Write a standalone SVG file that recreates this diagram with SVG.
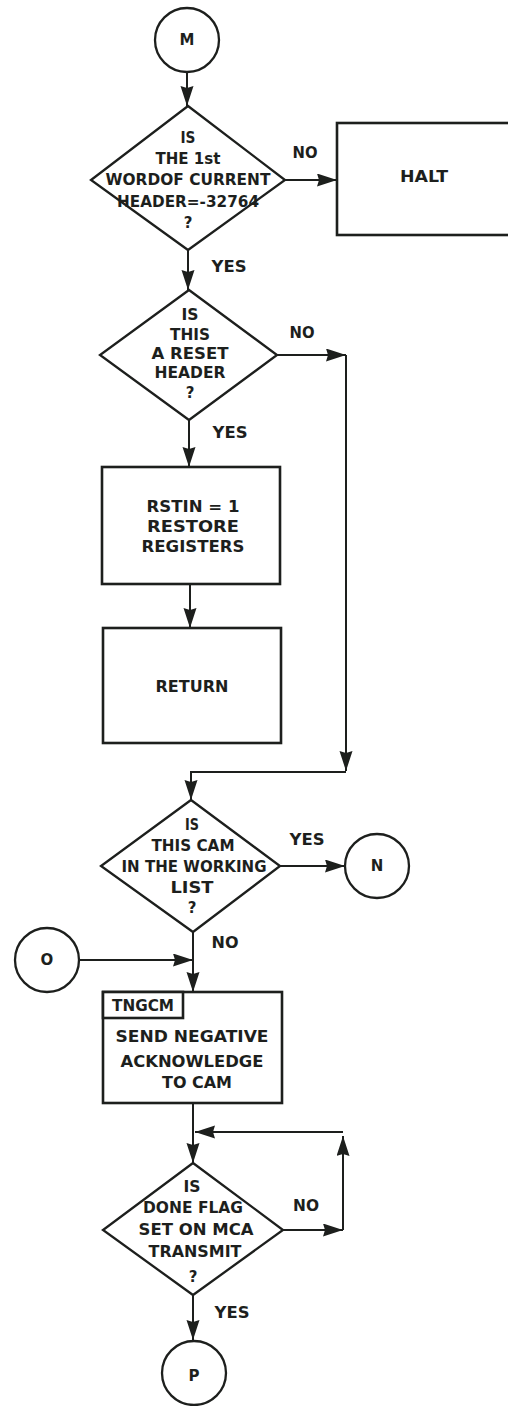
<svg xmlns="http://www.w3.org/2000/svg" width="508" height="1406" viewBox="0 0 508 1406">
<style>
.bg{fill:#ffffff}
.shape{fill:#ffffff;stroke:#1d1f1d;stroke-width:2.3}
.box{fill:#ffffff;stroke:#1d1f1d;stroke-width:2.6}
.conn{fill:none;stroke:#1d1f1d;stroke-width:2}
.t{font-family:"DejaVu Sans","Liberation Sans",Arial,sans-serif;font-weight:bold;font-size:15px;fill:#1d1f1d;text-anchor:middle}
</style>
<defs>
<marker id="arr" markerUnits="userSpaceOnUse" markerWidth="22" markerHeight="14" refX="20" refY="6.5" orient="auto">
<path d="M0,0 L20,6.5 L0,13 L2,6.5 z" fill="#1d1f1d"/>
</marker>
</defs>
<rect class="bg" x="0" y="0" width="508" height="1406"/>

<g id="connectors">
<path class="conn" d="M187,72 L187,106" marker-end="url(#arr)"/>
<path class="conn" d="M285,180 L337,180" marker-end="url(#arr)"/>
<path class="conn" d="M188,250 L188,290" marker-end="url(#arr)"/>
<path class="conn" d="M277,355 L346,355" marker-end="url(#arr)"/>
<path class="conn" d="M346,355 L346,771" marker-end="url(#arr)"/>
<path class="conn" d="M346,772 L191,772 L191,800" marker-end="url(#arr)"/>
<path class="conn" d="M189,420 L189,467" marker-end="url(#arr)"/>
<path class="conn" d="M190,584 L190,628" marker-end="url(#arr)"/>
<path class="conn" d="M280,866 L345,866" marker-end="url(#arr)"/>
<path class="conn" d="M80,960 L193,960" marker-end="url(#arr)"/>
<path class="conn" d="M193,932 L193,992" marker-end="url(#arr)"/>
<path class="conn" d="M193,1103 L193,1163" marker-end="url(#arr)"/>
<path class="conn" d="M283,1230 L343,1230" marker-end="url(#arr)"/>
<path class="conn" d="M343,1230 L343,1136" marker-end="url(#arr)"/>
<path class="conn" d="M343,1132 L195,1132" marker-end="url(#arr)"/>
<path class="conn" d="M193,1295 L193,1340" marker-end="url(#arr)"/>
<text class="t" x="305" y="158" textLength="25" lengthAdjust="spacingAndGlyphs">NO</text>
<text class="t" x="229" y="272" textLength="35" lengthAdjust="spacingAndGlyphs">YES</text>
<text class="t" x="302" y="338" textLength="25" lengthAdjust="spacingAndGlyphs">NO</text>
<text class="t" x="230" y="438" textLength="35" lengthAdjust="spacingAndGlyphs">YES</text>
<text class="t" x="307" y="845" textLength="35" lengthAdjust="spacingAndGlyphs">YES</text>
<text class="t" x="225" y="948" textLength="27" lengthAdjust="spacingAndGlyphs">NO</text>
<text class="t" x="306" y="1211" textLength="26" lengthAdjust="spacingAndGlyphs">NO</text>
<text class="t" x="232" y="1318" textLength="35" lengthAdjust="spacingAndGlyphs">YES</text>
</g>

<g id="node-M">
<circle class="shape" cx="187" cy="40" r="32"/>
<text class="t" x="187" y="45">M</text>
</g>

<g id="node-D1">
<polygon class="shape" points="188,106 285,180 188,250 91,180"/>
<text class="t" x="188" y="143" textLength="15" lengthAdjust="spacingAndGlyphs">IS</text>
<text class="t" x="188" y="164" textLength="65" lengthAdjust="spacingAndGlyphs">THE 1st</text>
<text class="t" x="188" y="185" textLength="165" lengthAdjust="spacingAndGlyphs">WORDOF CURRENT</text>
<text class="t" x="188" y="207" textLength="142" lengthAdjust="spacingAndGlyphs">HEADER=-32764</text>
<text class="t" x="188" y="228">?</text>
</g>

<g id="node-HALT">
<rect class="box" x="337" y="123" width="180" height="112"/>
<text class="t" x="424" y="182" textLength="48" lengthAdjust="spacingAndGlyphs">HALT</text>
</g>

<g id="node-D2">
<polygon class="shape" points="189,290 277,355 189,420 100,355"/>
<text class="t" x="190" y="320" textLength="17" lengthAdjust="spacingAndGlyphs">IS</text>
<text class="t" x="190" y="340" textLength="40" lengthAdjust="spacingAndGlyphs">THIS</text>
<text class="t" x="190" y="359" textLength="77" lengthAdjust="spacingAndGlyphs">A RESET</text>
<text class="t" x="190" y="378" textLength="71" lengthAdjust="spacingAndGlyphs">HEADER</text>
<text class="t" x="190" y="398">?</text>
</g>

<g id="node-RSTIN">
<rect class="box" x="102" y="467" width="178" height="117"/>
<text class="t" x="193" y="512" textLength="93" lengthAdjust="spacingAndGlyphs">RSTIN = 1</text>
<text class="t" x="193" y="532" textLength="92" lengthAdjust="spacingAndGlyphs">RESTORE</text>
<text class="t" x="193" y="552" textLength="103" lengthAdjust="spacingAndGlyphs">REGISTERS</text>
</g>

<g id="node-RETURN">
<rect class="box" x="103" y="628" width="178" height="115"/>
<text class="t" x="192" y="692" textLength="73" lengthAdjust="spacingAndGlyphs">RETURN</text>
</g>

<g id="node-D3">
<polygon class="shape" points="191,800 280,866 193,932 101,866"/>
<text class="t" x="192" y="830" textLength="14" lengthAdjust="spacingAndGlyphs">IS</text>
<text class="t" x="193" y="851" textLength="83" lengthAdjust="spacingAndGlyphs">THIS CAM</text>
<text class="t" x="194" y="872" textLength="145" lengthAdjust="spacingAndGlyphs">IN THE WORKING</text>
<text class="t" x="192" y="893" textLength="43" lengthAdjust="spacingAndGlyphs">LIST</text>
<text class="t" x="192" y="913">?</text>
</g>

<g id="node-N">
<circle class="shape" cx="377" cy="866" r="32"/>
<text class="t" x="377" y="871">N</text>
</g>

<g id="node-O">
<circle class="shape" cx="47" cy="960" r="32"/>
<text class="t" x="47" y="965">O</text>
</g>

<g id="node-TNGCM">
<rect class="box" x="103" y="992" width="179" height="111"/>
<rect class="box" x="103" y="992" width="80" height="26"/>
<text class="t" x="143" y="1011" textLength="62" lengthAdjust="spacingAndGlyphs">TNGCM</text>
<text class="t" x="192" y="1042" textLength="153" lengthAdjust="spacingAndGlyphs">SEND NEGATIVE</text>
<text class="t" x="192" y="1067" textLength="143" lengthAdjust="spacingAndGlyphs">ACKNOWLEDGE</text>
<text class="t" x="197" y="1088" textLength="70" lengthAdjust="spacingAndGlyphs">TO CAM</text>
</g>

<g id="node-D4">
<polygon class="shape" points="193,1163 283,1230 193,1295 103,1230"/>
<text class="t" x="192" y="1192" textLength="17" lengthAdjust="spacingAndGlyphs">IS</text>
<text class="t" x="193" y="1213" textLength="100" lengthAdjust="spacingAndGlyphs">DONE FLAG</text>
<text class="t" x="196" y="1235" textLength="115" lengthAdjust="spacingAndGlyphs">SET ON MCA</text>
<text class="t" x="195" y="1257" textLength="93" lengthAdjust="spacingAndGlyphs">TRANSMIT</text>
<text class="t" x="193" y="1282">?</text>
</g>

<g id="node-P">
<circle class="shape" cx="194" cy="1373" r="32"/>
<text class="t" x="194" y="1381">P</text>
</g>
</svg>
